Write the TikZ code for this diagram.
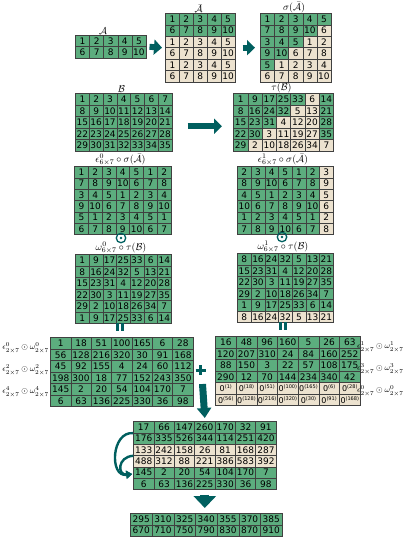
\documentclass[tikz,border=0pt]{standalone}
\usepackage{fontspec}
\newfontfamily\dv{DejaVu Sans}
\usetikzlibrary{matrix,arrows.meta}
\definecolor{gr}{RGB}{92,173,126}
\definecolor{bg}{RGB}{236,226,207}
\definecolor{tl}{RGB}{0,95,95}
\newcommand\zz[1]{{\fontsize{8}{8}\selectfont 0\raisebox{2.6pt}{\fontsize{5}{5}\selectfont(#1)}}}
\begin{document}
\begin{tikzpicture}[x=1pt,y=-1pt,
  cell/.style={draw=black!75, line width=0.6pt, fill=gr, inner sep=0pt,
    font=\dv\fontsize{9}{9}\selectfont, text height=6.6pt, text depth=0pt},
  b/.style={fill=bg},
  mat/.style={matrix of nodes, nodes={cell}, column sep=-0.6pt, row sep=-0.6pt,
    inner sep=0pt, anchor=north west},
  lab/.style={font=\fontsize{10}{10}\selectfont, inner sep=0.2pt, anchor=south},
  sidel/.style={font=\fontsize{8}{8}\selectfont, inner sep=0pt},
  bigarrow/.style={draw=tl, line width=6pt, -{Triangle[width=15pt,length=8pt]}},
  downarrow/.style={draw=tl, line width=7pt, -{Triangle[width=14pt,length=10pt]}},
  fatarrow/.style={draw=tl, line width=9pt, -{Triangle[width=22pt,length=12pt]}},
  curvearrow/.style={draw=tl, line width=2.4pt, -{Triangle[width=8pt,length=6pt]}},
  odotsym/.style={circle, draw=tl, line width=1.3pt, minimum size=9.5pt, inner sep=0pt},
]
\useasboundingbox (0,0) rectangle (407,540);

% A
\matrix (A) [mat, nodes={minimum width=14.1pt, minimum height=11.3pt}] at (75,35) {
1 & 2 & 3 & 4 & 5 \\
6 & 7 & 8 & 9 & 10 \\
};
\node[lab] (lA) at (103,35) {$\mathcal{A}$};

% A bar
\matrix (Abar) [mat, nodes={minimum width=13.9pt, minimum height=11.4pt}] at (165,13) {
1 & 2 & 3 & 4 & 5 \\
6 & 7 & 8 & 9 & 10 \\
|[b]| 1 & |[b]| 2 & |[b]| 3 & |[b]| 4 & |[b]| 5 \\
|[b]| 6 & |[b]| 7 & |[b]| 8 & |[b]| 9 & |[b]| 10 \\
|[b]| 1 & |[b]| 2 & |[b]| 3 & |[b]| 4 & |[b]| 5 \\
|[b]| 6 & |[b]| 7 & |[b]| 8 & |[b]| 9 & |[b]| 10 \\
};
\node[lab] (lAbar) at (198.5,13) {$\bar{\mathcal{A}}$};

% sigma(A bar)
\matrix (sig) [mat, nodes={minimum width=14.1pt, minimum height=11.4pt}] at (260,13) {
1 & 2 & 3 & 4 & 5 \\
7 & 8 & 9 & 10 & |[b]| 6 \\
3 & 4 & 5 & |[b]| 1 & |[b]| 2 \\
9 & 10 & |[b]| 6 & |[b]| 7 & |[b]| 8 \\
5 & |[b]| 1 & |[b]| 2 & |[b]| 3 & |[b]| 4 \\
|[b]| 6 & |[b]| 7 & |[b]| 8 & |[b]| 9 & |[b]| 10 \\
};
\node[lab] (lsig) at (294,13) {$\sigma(\bar{\mathcal{A}})$};

\draw[bigarrow] ([xshift=3pt]A.east) -- ([xshift=-3pt]Abar.west);
\draw[bigarrow] ([xshift=7pt]Abar.east) -- ([xshift=-5pt]sig.west);

% B
\matrix (B) [mat, nodes={minimum width=13.8pt, minimum height=11.5pt}] at (75,93) {
1 & 2 & 3 & 4 & 5 & 6 & 7 \\
8 & 9 & 10 & 11 & 12 & 13 & 14 \\
15 & 16 & 17 & 18 & 19 & 20 & 21 \\
22 & 23 & 24 & 25 & 26 & 27 & 28 \\
29 & 30 & 31 & 32 & 33 & 34 & 35 \\
};
\node[lab] (lB) at (121.5,93) {$\mathcal{B}$};

% tau(B)
\matrix (tau) [mat, nodes={minimum width=14.3pt, minimum height=11.5pt}] at (233,93) {
1 & 9 & 17 & 25 & 33 & |[b]| 6 & 14 \\
8 & 16 & 24 & 32 & |[b]| 5 & |[b]| 13 & 21 \\
15 & 23 & 31 & |[b]| 4 & |[b]| 12 & |[b]| 20 & 28 \\
22 & 30 & |[b]| 3 & |[b]| 11 & |[b]| 19 & |[b]| 27 & 35 \\
29 & |[b]| 2 & |[b]| 10 & |[b]| 18 & |[b]| 26 & |[b]| 34 & |[b]| 7 \\
};
\node[lab] (ltau) at (281.5,93) {$\tau(\mathcal{B})$};

\draw[bigarrow] ([shift={(15,4)}]B.east) -- ([shift={(-11,4)}]tau.west);

% epsilon 0
\matrix (e0) [mat, nodes={minimum width=13.8pt, minimum height=11.33pt}] at (74,166) {
1 & 2 & 3 & 4 & 5 & 1 & 2 \\
7 & 8 & 9 & 10 & 6 & 7 & 8 \\
3 & 4 & 5 & 1 & 2 & 3 & 4 \\
9 & 10 & 6 & 7 & 8 & 9 & 10 \\
5 & 1 & 2 & 3 & 4 & 5 & 1 \\
6 & 7 & 8 & 9 & 10 & 6 & 7 \\
};
\node[lab] (le0) at (120.5,166) {$\epsilon^{0}_{6\times7}\circ\sigma(\bar{\mathcal{A}})$};

% epsilon 1
\matrix (e1) [mat, nodes={minimum width=13.66pt, minimum height=11.33pt}] at (237,166) {
2 & 3 & 4 & 5 & 1 & 2 & |[b]| 3 \\
8 & 9 & 10 & 6 & 7 & 8 & |[b]| 9 \\
4 & 5 & 1 & 2 & 3 & 4 & |[b]| 5 \\
10 & 6 & 7 & 8 & 9 & 10 & |[b]| 6 \\
1 & 2 & 3 & 4 & 5 & 1 & |[b]| 2 \\
7 & 8 & 9 & 10 & 6 & 7 & |[b]| 8 \\
};
\node[lab] (le1) at (283,166) {$\epsilon^{1}_{6\times7}\circ\sigma(\bar{\mathcal{A}})$};

% odot symbols
\node[odotsym] (od0) at (121,238) {};
\fill[tl] (od0.center) circle (1.4pt);
\node[odotsym] (od1) at (282,237) {};
\fill[tl] (od1.center) circle (1.4pt);

% omega 0
\matrix (w0) [mat, nodes={minimum width=13.66pt, minimum height=11.5pt}] at (75,254) {
1 & 9 & 17 & 25 & 33 & 6 & 14 \\
8 & 16 & 24 & 32 & 5 & 13 & 21 \\
15 & 23 & 31 & 4 & 12 & 20 & 28 \\
22 & 30 & 3 & 11 & 19 & 27 & 35 \\
29 & 2 & 10 & 18 & 26 & 34 & 7 \\
1 & 9 & 17 & 25 & 33 & 6 & 14 \\
};
\node[lab] (lw0) at (121,254) {$\omega^{0}_{6\times7}\circ\tau(\mathcal{B})$};

% omega 1
\matrix (w1) [mat, nodes={minimum width=13.66pt, minimum height=11.5pt}] at (237,253) {
8 & 16 & 24 & 32 & 5 & 13 & 21 \\
15 & 23 & 31 & 4 & 12 & 20 & 28 \\
22 & 30 & 3 & 11 & 19 & 27 & 35 \\
29 & 2 & 10 & 18 & 26 & 34 & 7 \\
1 & 9 & 17 & 25 & 33 & 6 & 14 \\
|[b]| 8 & |[b]| 16 & |[b]| 24 & |[b]| 32 & |[b]| 5 & |[b]| 13 & |[b]| 21 \\
};
\node[lab] (lw1) at (283,253) {$\omega^{1}_{6\times7}\circ\tau(\mathcal{B})$};

% equal bars
\coordinate (eq0) at (120,327);
\fill[tl] ([shift={(-3.6,-4)}]eq0) rectangle ([shift={(-1.2,4)}]eq0);
\fill[tl] ([shift={(1.2,-4)}]eq0) rectangle ([shift={(3.6,4)}]eq0);
\coordinate (eq1) at (283,326);
\fill[tl] ([shift={(-3.6,-4)}]eq1) rectangle ([shift={(-1.2,4)}]eq1);
\fill[tl] ([shift={(1.2,-4)}]eq1) rectangle ([shift={(3.6,4)}]eq1);

% product left
\matrix (P1) [mat, nodes={minimum width=20.37pt, minimum height=11.5pt}] at (50,337) {
1 & 18 & 51 & 100 & 165 & 6 & 28 \\
56 & 128 & 216 & 320 & 30 & 91 & 168 \\
45 & 92 & 155 & 4 & 24 & 60 & 112 \\
198 & 300 & 18 & 77 & 152 & 243 & 350 \\
145 & 2 & 20 & 54 & 104 & 170 & 7 \\
6 & 63 & 136 & 225 & 330 & 36 & 98 \\
};
\node[sidel, anchor=east] (s1) at (49,348) {$\epsilon^{0}_{2\times7}\odot\omega^{0}_{2\times7}$};
\node[sidel, anchor=east] (s2) at (49,370) {$\epsilon^{2}_{2\times7}\odot\omega^{2}_{2\times7}$};
\node[sidel, anchor=east] (s3) at (49,392) {$\epsilon^{4}_{2\times7}\odot\omega^{4}_{2\times7}$};

% product right
\matrix (P2) [mat, nodes={minimum width=20.66pt, minimum height=11.5pt}] at (215,336) {
16 & 48 & 96 & 160 & 5 & 26 & 63 \\
120 & 207 & 310 & 24 & 84 & 160 & 252 \\
88 & 150 & 3 & 22 & 57 & 108 & 175 \\
290 & 12 & 70 & 144 & 234 & 340 & 42 \\
|[b]| \zz{1} & |[b]| \zz{18} & |[b]| \zz{51} & |[b]| \zz{100} & |[b]| \zz{165} & |[b]| \zz{6} & |[b]| \zz{28} \\
|[b]| \zz{56} & |[b]| \zz{128} & |[b]| \zz{216} & |[b]| \zz{320} & |[b]| \zz{30} & |[b]| \zz{91} & |[b]| \zz{168} \\
};
\node[sidel, anchor=west] (t1) at (357,347) {$\epsilon^{1}_{2\times7}\odot\omega^{1}_{2\times7}$};
\node[sidel, anchor=west] (t2) at (357,369) {$\epsilon^{3}_{2\times7}\odot\omega^{3}_{2\times7}$};
\node[sidel, anchor=west] (t3) at (357,391) {$\epsilon^{0}_{2\times7}\odot\omega^{0}_{2\times7}$};

% plus
\coordinate (pl) at (200.5,370);
\draw[tl, line width=3pt] ([xshift=-5pt]pl) -- ([xshift=5pt]pl) ([yshift=-5pt]pl) -- ([yshift=5pt]pl);

% sum
\matrix (S) [mat, nodes={minimum width=20.37pt, minimum height=11.33pt}] at (133,421) {
17 & 66 & 147 & 260 & 170 & 32 & 91 \\
176 & 335 & 526 & 344 & 114 & 251 & 420 \\
|[b]| 133 & |[b]| 242 & |[b]| 158 & |[b]| 26 & |[b]| 81 & |[b]| 168 & |[b]| 287 \\
|[b]| 488 & |[b]| 312 & |[b]| 88 & |[b]| 221 & |[b]| 386 & |[b]| 583 & |[b]| 392 \\
145 & 2 & 20 & 54 & 104 & 170 & 7 \\
6 & 63 & 136 & 225 & 330 & 36 & 98 \\
};

\coordinate (dtop) at (202.5,384);
\draw[downarrow] (dtop) -- ([shift={(0,-3)}]S.north);

\draw[curvearrow] (S-1-1.south west) .. controls ([shift={(-22,-2)}]S-1-1.south west) and ([shift={(-24,5)}]S-5-1.west) .. ([shift={(-1,1.5)}]S-5-1.west);
\draw[curvearrow] (S-3-1.south west) .. controls ([shift={(-16,1)}]S-3-1.south west) and ([shift={(-16,3)}]S-5-1.west) .. ([shift={(-1,1.5)}]S-5-1.west);

% final
\matrix (F) [mat, nodes={minimum width=21.66pt, minimum height=11.3pt}] at (130,513) {
295 & 310 & 325 & 340 & 355 & 370 & 385 \\
670 & 710 & 750 & 790 & 830 & 870 & 910 \\
};

\draw[fatarrow] ([shift={(0,5)}]S.south) -- ([shift={(0,-5)}]S.south |- F.north);
\end{tikzpicture}
\end{document}
